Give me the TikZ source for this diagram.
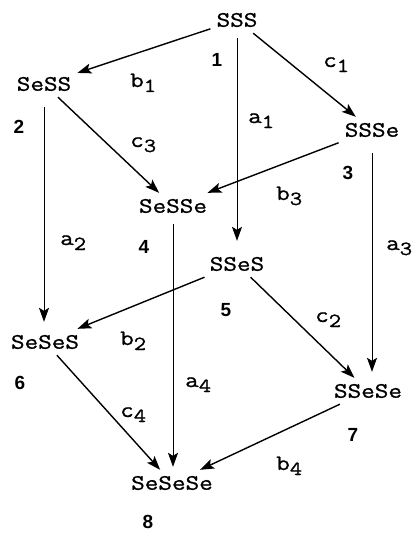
\documentclass[tikz,border=0pt]{standalone}
\usepackage{fontspec}
\setmonofont{Latin Modern Mono}[FakeStretch=1.2,FakeBold=1]
\newfontfamily\numfont{Liberation Sans}
\usetikzlibrary{arrows.meta}

\newcommand{\lsub}[2]{#1\raisebox{-5pt}{\fontsize{20}{22}\selectfont#2}}

\begin{document}
\begin{tikzpicture}[x=1pt,y=-1pt,
	st/.style={font=\fontsize{22}{26}\selectfont\ttfamily, inner sep=6pt},
	lab/.style={font=\fontsize{22}{26}\selectfont\ttfamily, inner sep=0pt, anchor=base west},
	num/.style={font=\fontsize{19}{21}\selectfont\numfont\bfseries, inner sep=0pt},
	arr/.style={line width=1.4pt, -{Stealth[length=14pt,width=10pt,inset=3pt]}},
	varr/.style={line width=0.8pt, -{Stealth[length=14pt,width=10pt,inset=3pt]}}]
	\useasboundingbox (0,0) rectangle (415,535);
	% states
	\node[st] (sss) at (237,20) {SSS};
	\node[st] (sess) at (44,84) {SeSS};
	\node[st] (ssse) at (372,130) {SSSe};
	\node[st] (sesse) at (173,206) {SeSSe};
	\node[st] (sses) at (237,264) {SSeS};
	\node[st] (seses) at (45,342) {SeSeS};
	\node[st] (ssese) at (368,391) {SSeSe};
	\node[st] (sesese) at (172,483) {SeSeSe};
	% numbers
	\node[num] (n1) at (217,60) {1};
	\node[num] (n2) at (19,127) {2};
	\node[num] (n3) at (348,173) {3};
	\node[num] (n4) at (144,247) {4};
	\node[num] (n5) at (226,310) {5};
	\node[num] (n6) at (20,383) {6};
	\node[num] (n7) at (353,435) {7};
	\node[num] (n8) at (148,522) {8};
	% arrows
	\draw[arr] (sss) -- (sess);
	\draw[arr] (sss) -- (ssse);
	\draw[varr, shorten <=5pt, shorten >=10pt] (sss.south) -- (sss.south |- sses.north);
	\draw[varr, shorten <=10pt, shorten >=7pt] (sess.south) -- (sess.south |- seses.north);
	\draw[arr] (sess) -- (sesse);
	\draw[arr] (ssse) -- (sesse);
	\draw[varr, shorten <=10pt, shorten >=6pt] (ssse.south) -- (ssse.south |- ssese.north);
	\draw[varr, shorten <=5pt, shorten >=3pt] (sesse.south) -- (sesse.south |- sesese.north);
	\draw[arr] (sses) -- (seses);
	\draw[arr] (sses) -- (ssese);
	\draw[arr] (seses) -- (sesese);
	\draw[arr] (ssese) -- (sesese);
	% labels
	\node[lab] (b1) at (130,87) {\lsub{b}{1}};
	\node[lab] (c1) at (323,67) {\lsub{c}{1}};
	\node[lab] (a1) at (248,123) {\lsub{a}{1}};
	\node[lab] (c3) at (130,147) {\lsub{c}{3}};
	\node[lab] (b3) at (276,200) {\lsub{b}{3}};
	\node[lab] (a2) at (60,245) {\lsub{a}{2}};
	\node[lab] (a3) at (386,250) {\lsub{a}{3}};
	\node[lab] (c2) at (315,322) {\lsub{c}{2}};
	\node[lab] (b2) at (120,345) {\lsub{b}{2}};
	\node[lab] (a4) at (185,387) {\lsub{a}{4}};
	\node[lab] (c4) at (120,417) {\lsub{c}{4}};
	\node[lab] (b4) at (276,470) {\lsub{b}{4}};
\end{tikzpicture}
\end{document}
